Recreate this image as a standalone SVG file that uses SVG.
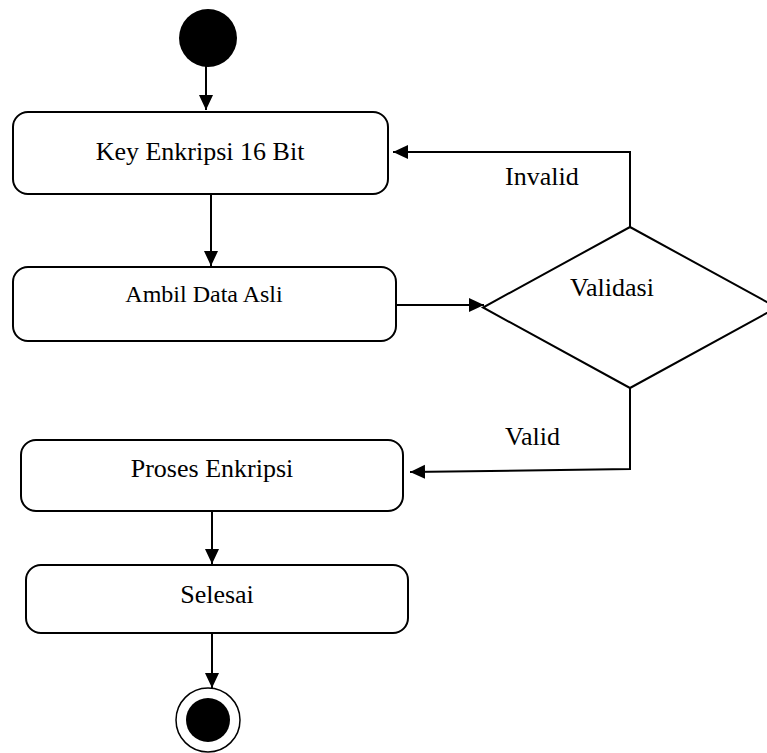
<svg xmlns="http://www.w3.org/2000/svg" width="767" height="753" viewBox="0 0 767 753">
  <style>
    .box { fill: #fff; stroke: #000; stroke-width: 2; }
    .lbl { font-family: "Liberation Serif", "Times New Roman", serif; font-size: 26px; fill: #000; }
    .conn { fill: none; stroke: #000; stroke-width: 2; }
  </style>
  <defs>
    <marker id="arrow" markerUnits="userSpaceOnUse" markerWidth="16" markerHeight="16" refX="15" refY="7" orient="auto">
      <path d="M0,0 L15,7 L0,14 z" fill="#000"/>
    </marker>
  </defs>

  <rect width="767" height="753" fill="#fff"/>

  <g id="start">
    <circle cx="208" cy="38" r="29" fill="#000"/>
  </g>

  <g id="key">
    <rect class="box" x="13" y="112" width="375" height="82" rx="15"/>
    <text class="lbl" x="200" y="160" text-anchor="middle">Key Enkripsi 16 Bit</text>
  </g>

  <g id="ambil">
    <rect class="box" x="13" y="267" width="383" height="74" rx="15"/>
    <text class="lbl" x="204" y="302" text-anchor="middle" style="font-size:24px">Ambil Data Asli</text>
  </g>

  <g id="validasi">
    <polygon class="box" points="630,227 777,307.5 630,388 483,307.5"/>
    <text class="lbl" x="612" y="296" text-anchor="middle">Validasi</text>
  </g>

  <g id="proses">
    <rect class="box" x="21" y="440" width="382" height="71" rx="15"/>
    <text class="lbl" x="212" y="477" text-anchor="middle">Proses Enkripsi</text>
  </g>

  <g id="selesai">
    <rect class="box" x="26" y="565" width="382" height="68" rx="15"/>
    <text class="lbl" x="217" y="603" text-anchor="middle">Selesai</text>
  </g>

  <g id="end">
    <circle cx="208" cy="720" r="32" fill="#fff" stroke="#000" stroke-width="1.5"/>
    <circle cx="208" cy="720" r="22" fill="#000"/>
  </g>

  <g id="connectors">
    <line class="conn" x1="206" y1="66" x2="206" y2="110" marker-end="url(#arrow)"/>
    <line class="conn" x1="211" y1="194" x2="211" y2="266" marker-end="url(#arrow)"/>
    <line class="conn" x1="396" y1="305" x2="484" y2="305" marker-end="url(#arrow)"/>
    <polyline class="conn" points="630,227 630,152 393,152" marker-end="url(#arrow)"/>
    <polyline class="conn" points="630,388 630,469 410,472" marker-end="url(#arrow)"/>
    <line class="conn" x1="212" y1="511" x2="212" y2="564" marker-end="url(#arrow)"/>
    <line class="conn" x1="212" y1="633" x2="212" y2="688" marker-end="url(#arrow)"/>
    <text class="lbl" x="505" y="185">Invalid</text>
    <text class="lbl" x="505" y="445">Valid</text>
  </g>
</svg>
